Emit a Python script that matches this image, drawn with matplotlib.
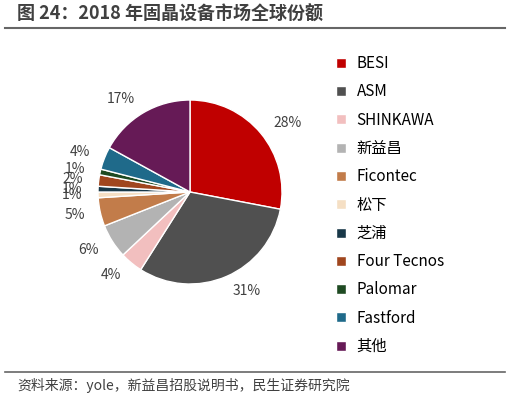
import matplotlib
matplotlib.use("Agg")
import matplotlib.pyplot as plt
from matplotlib.lines import Line2D
plt.rcParams['font.family'] = ['Noto Sans CJK SC', 'DejaVu Sans']

labels = ["BESI", "ASM", "SHINKAWA", "新益昌", "Ficontec", "松下", "芝浦", "Four Tecnos", "Palomar", "Fastford", "其他"]
values = [28, 31, 4, 6, 5, 1, 1, 2, 1, 4, 17]
colors = ["#C00000", "#505050", "#F2BFBF", "#B3B3B3", "#C27C4A", "#F5DFC4", "#183848", "#A0461E", "#1E4A22", "#1F6A8A", "#661A56"]

fig = plt.figure(figsize=(5.12, 4.01), dpi=100)
# center ~ (190,192) px, radius ~ 92 px
ax = fig.add_axes([(190-92)/512, 1-(192+92)/401, 184/512, 184/401])
wedges, texts = ax.pie(values, colors=colors, startangle=90, counterclock=False,
                       labels=[f"{v}%" for v in values], labeldistance=1.17,
                       wedgeprops=dict(edgecolor="white", linewidth=1),
                       textprops=dict(fontsize=10, color="#404040"))
ax.set_xlim(-1, 1)
ax.set_ylim(-1, 1)
ax.set_aspect("equal")

handles = [Line2D([0], [0], marker="s", color="w", markerfacecolor=c, markersize=7) for c in colors]
fig.legend(handles, labels, loc="upper left", bbox_to_anchor=(0.625, 0.897), frameon=False,
           fontsize=11, labelspacing=0.74, handletextpad=0.5, handlelength=1.0)

fig.text(17/512, 1-14/401, "图 24：2018 年固晶设备市场全球份额", fontsize=13, fontweight="bold", color="#404040", va="center")
fig.add_artist(Line2D([5/512, 505/512], [1-28/401, 1-28/401], color="#666666", linewidth=1.5))
fig.add_artist(Line2D([5/512, 505/512], [1-372/401, 1-372/401], color="#666666", linewidth=1.2))
fig.text(17/512, 1-385/401, "资料来源：yole，新益昌招股说明书，民生证券研究院", fontsize=10, color="#404040", va="center")
fig.savefig("out.png", dpi=100)
